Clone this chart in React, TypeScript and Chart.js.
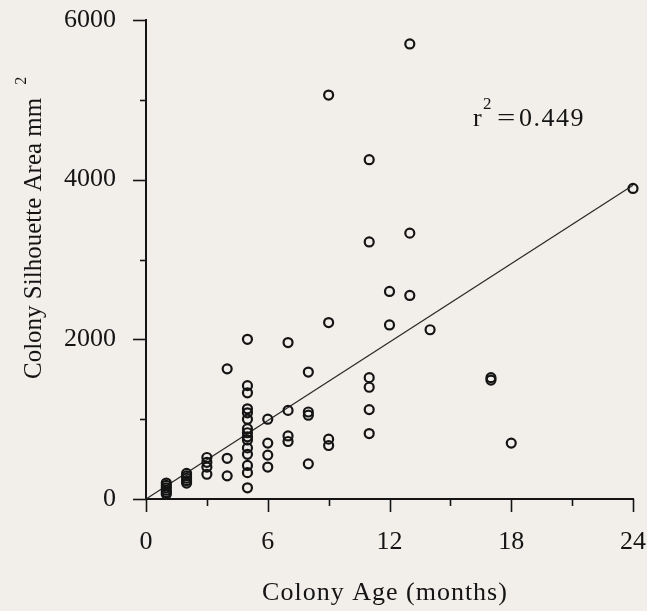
import { useEffect, useRef } from "react";
import { Chart, registerables } from "chart.js";

Chart.register(...registerables);

// Colony age (months) and silhouette area (mm²)
const ageMonths = [
  1, 1, 1, 1, 1, 1,
  2, 2, 2, 2, 2,
  3, 3, 3, 3,
  4, 4, 4,
  5, 5, 5, 5, 5, 5, 5, 5, 5, 5, 5, 5, 5, 5, 5,
  6, 6, 6, 6,
  7, 7, 7, 7,
  8, 8, 8, 8,
  9, 9, 9, 9,
  11, 11, 11, 11, 11, 11,
  12, 12,
  13, 13, 13,
  14,
  17, 17,
  18,
  24,
];
const areaMm2 = [
  200, 170, 140, 110, 80, 60,
  320, 290, 260, 230, 200,
  520, 460, 400, 310,
  1630, 510, 290,
  2000, 1420, 1330, 1130, 1080, 1000, 880, 830, 780, 740, 640, 560, 420, 330, 140,
  1000, 700, 550, 400,
  1960, 1110, 790, 720,
  1590, 1090, 1050, 440,
  5060, 2210, 750, 670,
  4250, 3220, 1520, 1400, 1120, 820,
  2600, 2180,
  5700, 3330, 2550,
  2120,
  1520, 1490,
  700,
  3890,
];

// Regression line end points
const fitX = [0, 24];
const fitY = [0, 3930];

const xTicks = [0, 6, 12, 18, 24];
const xMinorTicks = [3, 9, 15, 21];
const yTicks = [0, 2000, 4000, 6000];
const yMinorTicks = [1000, 3000, 5000];

const xTitle = "Colony Age (months)";
const yTitle = "Colony Silhouette Area mm";
const yTitleSup = "2";
const r2Symbol = "r";
const r2Sup = "2";
const r2Value = "0.449";

const SERIF = '"Liberation Serif", "Times New Roman", serif';
const INK = "#141414";

const decorPlugin = {
  id: "decor",
  afterDraw(chart: any) {
    const ctx = chart.ctx as CanvasRenderingContext2D;
    const xs = chart.scales.x;
    const ys = chart.scales.y;
    const area = chart.chartArea;
    ctx.save();
    ctx.strokeStyle = INK;
    ctx.lineWidth = 1.6;
    const drawX = (v: number, len: number) => {
      const p = Math.round(xs.getPixelForValue(v)) + 0.5;
      ctx.beginPath();
      ctx.moveTo(p, area.bottom);
      ctx.lineTo(p, area.bottom + len);
      ctx.stroke();
    };
    xTicks.forEach((v) => drawX(v, 13));
    xMinorTicks.forEach((v) => drawX(v, 7));
    const drawY = (v: number, len: number) => {
      const p = Math.round(ys.getPixelForValue(v)) + 0.5;
      ctx.beginPath();
      ctx.moveTo(area.left, p);
      ctx.lineTo(area.left - len, p);
      ctx.stroke();
    };
    yTicks.forEach((v) => drawY(v, 13));
    yMinorTicks.forEach((v) => drawY(v, 6));

    ctx.fillStyle = INK;
    // x title
    ctx.font = `26px ${SERIF}`;
    ctx.textAlign = "center";
    ctx.textBaseline = "alphabetic";
    (ctx as any).letterSpacing = "1px";
    ctx.fillText(xTitle, 385, 600);
    (ctx as any).letterSpacing = "0px";

    // y title (rotated)
    ctx.save();
    ctx.translate(41, 379);
    ctx.rotate(-Math.PI / 2);
    ctx.textAlign = "left";
    ctx.font = `25px ${SERIF}`;
    ctx.fillText(yTitle, 0, 0);
    const w = ctx.measureText(yTitle).width;
    ctx.font = `16px ${SERIF}`;
    ctx.fillText(yTitleSup, w + 13, -15);
    ctx.restore();

    // r² annotation
    ctx.textAlign = "left";
    ctx.font = `26px ${SERIF}`;
    ctx.fillText(r2Symbol, 473, 126);
    ctx.font = `17px ${SERIF}`;
    ctx.fillText(r2Sup, 483, 109);
    ctx.font = `26px ${SERIF}`;
    ctx.save();
    ctx.translate(497, 126);
    ctx.scale(1.25, 1);
    ctx.fillText("=", 0, 0);
    ctx.restore();
    (ctx as any).letterSpacing = "1.5px";
    ctx.fillText(r2Value, 519, 126);
    (ctx as any).letterSpacing = "0px";
    ctx.restore();
  },
};

export default function App() {
  const canvasRef = useRef<HTMLCanvasElement | null>(null);

  useEffect(() => {
    const canvas = canvasRef.current;
    if (!canvas) return;
    const points = ageMonths.map((a, i) => ({ x: a, y: areaMm2[i] }));
    const fit = fitX.map((a, i) => ({ x: a, y: fitY[i] }));
    const chart = new Chart(canvas, {
      type: "scatter",
      data: {
        datasets: [
          {
            type: "line",
            data: fit,
            borderColor: "#2a2a2a",
            borderWidth: 1.3,
            pointRadius: 0,
            fill: false,
            order: 2,
          } as any,
          {
            type: "scatter",
            data: points,
            pointStyle: "circle",
            pointRadius: 4.5,
            pointBorderWidth: 2.2,
            pointBorderColor: INK,
            pointBackgroundColor: "rgba(0,0,0,0)",
            borderColor: INK,
            backgroundColor: "rgba(0,0,0,0)",
            order: 1,
          } as any,
        ],
      },
      options: {
        animation: false,
        responsive: false,
        devicePixelRatio: 1,
        clip: false as any,
        layout: { padding: { top: 20, right: 14, left: 0, bottom: 0 } },
        plugins: {
          legend: { display: false },
          tooltip: { enabled: false },
        },
        scales: {
          x: {
            type: "linear",
            min: 0,
            max: 24,
            afterBuildTicks: (s: any) => {
              s.ticks = xTicks.map((v) => ({ value: v }));
            },
            afterFit: (s: any) => {
              s.height = 112;
              s.paddingLeft = 0;
              s.paddingRight = 0;
              s.paddingTop = 0;
              s.paddingBottom = 0;
            },
            grid: { display: false },
            border: { display: true, color: INK, width: 2 },
            ticks: {
              color: INK,
              font: { family: SERIF, size: 26 },
              padding: 20,
              maxRotation: 0,
              autoSkip: false,
              callback: (v: any) => String(v),
            },
          },
          y: {
            type: "linear",
            min: 0,
            max: 6000,
            afterBuildTicks: (s: any) => {
              s.ticks = yTicks.map((v) => ({ value: v }));
            },
            afterFit: (s: any) => {
              s.width = 146;
              s.paddingLeft = 0;
              s.paddingRight = 0;
              s.paddingTop = 0;
              s.paddingBottom = 0;
            },
            grid: { display: false },
            border: { display: true, color: INK, width: 2 },
            ticks: {
              color: INK,
              font: { family: SERIF, size: 26 },
              padding: 22,
              autoSkip: false,
              callback: (v: any) => String(v),
            },
          },
        },
      },
      plugins: [decorPlugin],
    });
    return () => chart.destroy();
  }, []);

  return (
    <div
      style={{
        position: "absolute",
        left: 0,
        top: 0,
        width: 647,
        height: 611,
        background: "#f2efeb",
      }}
    >
      <canvas ref={canvasRef} width={647} height={611} style={{ display: "block" }} />
    </div>
  );
}
